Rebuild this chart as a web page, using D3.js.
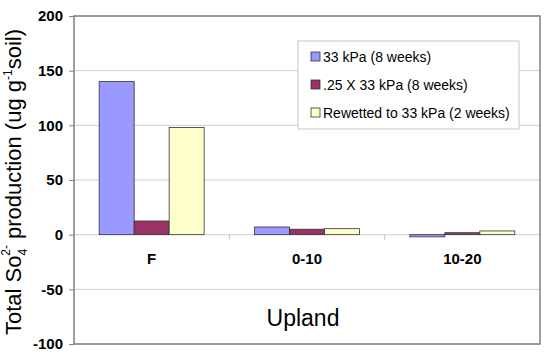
<!DOCTYPE html>
<html>
<head>
<meta charset="utf-8">
<script src="https://cdn.jsdelivr.net/npm/d3@7"></script>
<style>
  body { margin: 0; background: #fff; }
  svg { font-family: "Liberation Sans", Arial, sans-serif; }
</style>
</head>
<body>
<div id="chart"></div>
<script>
// Chart data
const categories = ["F", "0-10", "10-20"];
const seriesNames = ["33 kPa (8 weeks)", ".25 X 33 kPa (8 weeks)", "Rewetted to 33 kPa (2 weeks)"];
const seriesValues = [
    [140, 7, -2],
    [12.5, 5, 1.8],
    [98, 5.5, 3.4]
];
const yTicks = [-100, -50, 0, 50, 100, 150, 200];
const colors = ["#9999ff", "#993366", "#ffffcc"];

const width = 550, height = 361;
const margin = { top: 16, right: 10, bottom: 17, left: 74 };
const innerWidth = 540 - margin.left;
const innerHeight = 344 - margin.top;

const svg = d3.select("#chart").append("svg")
    .attr("width", width)
    .attr("height", height);

const g = svg.append("g")
    .attr("transform", `translate(${margin.left},${margin.top})`);

// Scales
const yScale = d3.scaleLinear().domain([-100, 200]).range([innerHeight, 0]);
const xScale = d3.scaleBand().domain(categories).range([0, innerWidth]).paddingInner(0).paddingOuter(0);
const xSub = d3.scaleBand().domain(d3.range(seriesNames.length))
    .range([0, xScale.bandwidth()]).paddingOuter(0.72).paddingInner(0);

// Gridlines
g.selectAll(".grid").data(yTicks).enter().append("line")
    .attr("x1", 0).attr("x2", innerWidth)
    .attr("y1", d => yScale(d)).attr("y2", d => yScale(d))
    .attr("stroke", "#d0d0d0").attr("stroke-width", 1);

// Y axis
const yAxis = g.append("g")
    .call(d3.axisLeft(yScale).tickValues(yTicks).tickFormat(d => String(d)).tickSize(5).tickPadding(6));
yAxis.select(".domain").remove();
yAxis.selectAll("line").attr("stroke", "#808080");
yAxis.selectAll("text")
    .style("font-size", "15px").style("font-weight", "bold").attr("fill", "#000");

// Category ticks on the zero line
g.selectAll(".xtick").data(categories.slice(1)).enter().append("line")
    .attr("x1", d => xScale(d)).attr("x2", d => xScale(d))
    .attr("y1", yScale(0)).attr("y2", yScale(0) + 5)
    .attr("stroke", "#c0c0c0");

// Bars
const bars = [];
categories.forEach((c, ci) => {
    seriesValues.forEach((vals, si) => {
        bars.push({ cat: c, s: si, v: vals[ci] });
    });
});
g.selectAll(".bar").data(bars).enter().append("rect")
    .attr("x", d => xScale(d.cat) + xSub(d.s))
    .attr("width", xSub.bandwidth())
    .attr("y", d => yScale(Math.max(0, d.v)))
    .attr("height", d => Math.abs(yScale(d.v) - yScale(0)))
    .attr("fill", d => colors[d.s])
    .attr("stroke", "#333")
    .attr("stroke-width", 0.8);

// Category labels
g.selectAll(".catlabel").data(categories).enter().append("text")
    .attr("x", d => xScale(d) + xScale.bandwidth() / 2)
    .attr("y", yScale(0) + 29)
    .attr("text-anchor", "middle")
    .style("font-size", "15px").style("font-weight", "bold")
    .text(d => d);

// Plot border
g.append("rect")
    .attr("width", innerWidth).attr("height", innerHeight)
    .attr("fill", "none").attr("stroke", "#808080").attr("stroke-width", 1.5);

// Title below
g.append("text")
    .attr("x", innerWidth / 2 - 4)
    .attr("y", 310)
    .attr("text-anchor", "middle")
    .style("font-size", "23px")
    .text("Upland");

// Y axis label
const yLabel = svg.append("text")
    .attr("transform", `translate(21,182) rotate(-90)`)
    .attr("text-anchor", "middle")
    .style("font-size", "22px");
yLabel.append("tspan").text("Total So");
yLabel.append("tspan").attr("dy", 6).style("font-size", "12px").text("4");
yLabel.append("tspan").attr("dy", -17).attr("dx", -7).style("font-size", "12px").text("2-");
yLabel.append("tspan").attr("dy", 11).text(" production (ug g");
yLabel.append("tspan").attr("dy", -9).style("font-size", "12px").text("-1");
yLabel.append("tspan").attr("dy", 9).text("soil)");

// Legend
const legend = svg.append("g").attr("transform", "translate(298,41)");
legend.append("rect")
    .attr("width", 221).attr("height", 88)
    .attr("fill", "#fff").attr("stroke", "#c8c8c8");
seriesNames.forEach((name, i) => {
    const row = legend.append("g").attr("transform", `translate(13,${16 + i * 28})`);
    row.append("rect")
        .attr("x", 0).attr("y", -5).attr("width", 9).attr("height", 9)
        .attr("fill", colors[i]).attr("stroke", "#333").attr("stroke-width", 0.8);
    row.append("text")
        .attr("x", 12).attr("y", 5)
        .style("font-size", "14px")
        .text(name);
});
</script>
</body>
</html>
